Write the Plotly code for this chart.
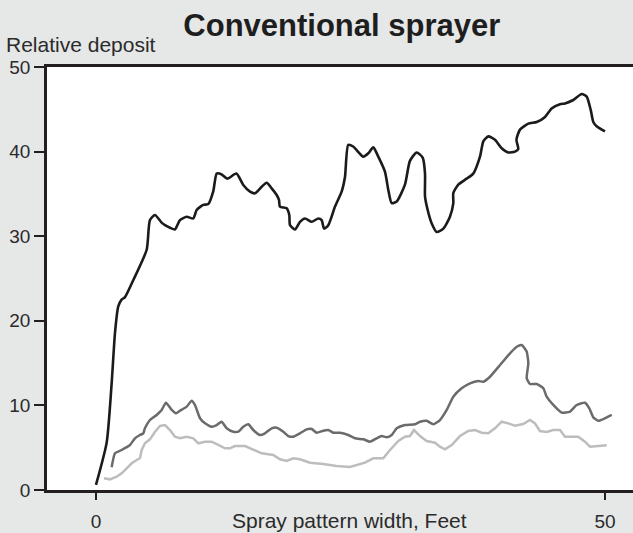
import plotly.graph_objects as go

# spray deposit across the swath
black_x = [0, 1.05, 1.54, 1.87, 2.19, 2.52, 2.85, 3.66, 4.98, 5.3, 5.8, 6.45, 6.78, 7.27, 7.76, 8.25,
           8.91, 9.56, 9.89, 10.54, 11.03, 11.52, 11.86, 12.35, 12.9, 13.8, 14.47, 15.13, 15.62, 16.28,
           16.77, 17.26, 17.75, 17.98, 18.07, 18.73, 18.99, 19.06, 19.55, 20.04, 20.53, 21.19, 21.84,
           22.17, 22.4, 22.82, 23.48, 24.14, 24.46, 24.78, 25.27, 26.26, 26.75, 27.24, 27.73, 28.39,
           28.71, 29.05, 29.54, 30.35, 30.84, 31.5, 32.09, 32.32, 32.32, 32.54, 32.98, 33.47, 34.12,
           34.77, 35.1, 35.1, 35.59, 36.41, 37.06, 37.72, 38.05, 38.54, 39.19, 39.85, 40.5, 41.16,
           41.48, 41.3, 41.65, 42.47, 43.29, 44.11, 44.76, 45.58, 46.07, 46.89, 47.71, 48.2, 48.6,
           48.85, 49.18, 50.0]
black_y = [0.6, 5.6, 12.6, 18.6, 21.7, 22.5, 22.8, 24.8, 28.4, 31.9, 32.5, 31.6, 31.3, 31.0, 30.8, 31.9,
           32.3, 32.1, 33.1, 33.7, 33.8, 35.3, 37.4, 37.3, 36.8, 37.4, 36.05, 35.26, 35.07, 35.85,
           36.32, 35.66, 34.87, 34.28, 33.49, 33.3, 32.5, 31.3, 30.8, 31.7, 32.1, 31.7, 32.1,
           31.9, 30.9, 31.3, 33.5, 35.3, 37.0, 40.8, 40.6, 39.4, 39.8, 40.5, 39.4, 37.6,
           35.5, 33.9, 34.1, 36.1, 38.9, 39.9, 39.3, 37.4, 34.7, 33.3, 31.5, 30.5, 30.9,
           32.3, 33.9, 35.1, 36.1, 36.8, 37.4, 39.4, 41.2, 41.8, 41.4, 40.4, 39.9, 40.0,
           40.3, 41.4, 42.6, 43.3, 43.5, 44.1, 45.1, 45.6, 45.7, 46.1, 46.8, 46.5, 44.9,
           43.5, 43.0, 42.4]

dark_x = [1.54, 1.87, 2.52, 3.34, 3.83, 4.32, 4.65, 4.81, 5.3, 5.96, 6.45, 6.88, 7.44, 7.86, 8.25, 8.91,
          9.4, 9.72, 10.22, 10.71, 11.37, 11.86, 12.35, 12.84, 13.49, 13.98, 14.47, 14.96, 15.45,
          16.11, 16.6, 17.26, 17.75, 18.4, 18.89, 19.38, 20.04, 20.7, 21.19, 21.68, 22.33, 22.82,
          23.31, 23.97, 24.78, 25.44, 26.26, 26.92, 27.57, 28.06, 28.56, 29.05, 29.54, 30.35,
          31.34, 31.83, 32.48, 33.13, 33.79, 34.45, 35.1, 35.92, 36.74, 37.55, 38.05, 38.7, 39.69,
          40.67, 41.33, 41.82, 42.31, 42.47, 42.31, 42.63, 43.29, 43.94, 44.27, 44.92, 45.75,
          46.56, 47.22, 48.03, 48.46, 48.85, 49.34, 50.0, 50.66]
dark_y = [2.68, 4.34, 4.73, 5.32, 6.11, 6.5, 6.7, 7.29, 8.27, 8.87, 9.46, 10.32, 9.46, 9.07, 9.37, 9.85,
          10.56, 10.05, 8.48, 7.88, 7.48, 7.68, 8.07, 7.29, 6.89, 6.89, 7.48, 7.77, 7.09,
          6.5, 6.7, 7.29, 7.36, 6.89, 6.38, 6.3, 6.7, 7.17, 7.21, 6.77, 7.01, 7.09,
          6.77, 6.77, 6.5, 6.11, 5.99, 5.71, 6.11, 6.38, 6.23, 6.5, 7.29, 7.68,
          7.77, 8.07, 8.19, 7.77, 8.27, 9.46, 11.03, 12.02, 12.61, 12.88, 12.8, 13.39, 14.78,
          16.16, 16.94, 17.14, 16.35, 14.98, 13.2, 12.53, 12.53, 12.02, 11.03, 10.05, 9.14,
          9.26, 10.05, 10.32, 9.66, 8.59, 8.19, 8.48, 8.87]

light_x = [0.79, 1.38, 2.03, 2.52, 3.02, 3.51, 4.0, 4.32, 4.49, 4.81, 5.3, 5.8, 6.29, 6.78, 7.27, 7.76,
           8.25, 8.91, 9.56, 10.05, 10.71, 11.37, 12.01, 12.67, 13.16, 13.65, 14.64, 15.45, 16.28,
           17.42, 18.07, 18.73, 19.38, 20.04, 21.02, 22.33, 23.64, 24.95, 25.61, 26.42, 27.24,
           28.22, 28.88, 29.7, 30.35, 30.84, 31.24, 31.83, 32.48, 33.3, 33.79, 34.28, 34.94,
           35.76, 36.57, 37.23, 37.89, 38.54, 39.19, 39.85, 40.5, 41.16, 41.97, 42.63, 43.12,
           43.61, 44.27, 44.92, 45.58, 46.07, 46.73, 47.38, 48.03, 48.53, 49.35, 50.17]
light_y = [1.38, 1.26, 1.57, 1.97, 2.56, 3.16, 3.55, 3.75, 4.73, 5.52, 5.99, 6.89, 7.57, 7.68, 7.09, 6.3,
           6.11, 6.3, 6.11, 5.52, 5.71, 5.71, 5.32, 4.93, 4.93, 5.2, 5.2, 4.73, 4.34,
           4.14, 3.63, 3.43, 3.75, 3.63, 3.23, 3.07, 2.84, 2.72, 2.96, 3.23, 3.75,
           3.75, 4.73, 5.79, 6.3, 6.38, 7.09, 6.38, 5.79, 5.59, 5.12, 4.81, 5.32,
           6.38, 6.97, 7.09, 6.77, 6.7, 7.29, 8.07, 7.88, 7.6, 7.8, 8.27, 7.88,
           6.97, 6.86, 7.09, 7.09, 6.3, 6.3, 6.3, 5.71, 5.12, 5.2, 5.28]

x_ticks = [0, 50]
y_ticks = [0, 10, 20, 30, 40, 50]

BG = "#e6e7e7"
INK = "#231f20"
TXT = "#2b2b2b"
FONT = "Liberation Sans, Arial, sans-serif"

fig = go.Figure()
fig.add_trace(go.Scatter(x=light_x, y=light_y, mode="lines",
                         line=dict(color="#bdbdbd", width=2.5)))
fig.add_trace(go.Scatter(x=dark_x, y=dark_y, mode="lines",
                         line=dict(color="#6b6b6b", width=2.5, shape="spline", smoothing=0.5)))
fig.add_trace(go.Scatter(x=black_x, y=black_y, mode="lines",
                         line=dict(color="#1c1a1a", width=2.6, shape="spline", smoothing=0.6)))

fig.update_layout(
    width=633, height=533,
    margin=dict(l=47, r=0, t=67, b=43, autoexpand=False),
    paper_bgcolor=BG, plot_bgcolor="white",
    showlegend=False,
    font=dict(family=FONT, size=19, color=TXT),
    title=dict(text="<b>Conventional sprayer</b>", x=0.54, xanchor="center",
               y=0.952, yanchor="middle", font=dict(size=31, color="#1e1e1e")),
)
fig.update_xaxes(range=[-4.81, 52.75], tickvals=x_ticks, ticks="outside", ticklen=7,
                 tickwidth=2, tickcolor=INK, showline=True, linewidth=2.5, linecolor=INK,
                 mirror=True, showgrid=False, zeroline=False, fixedrange=True,
                 automargin=False, ticklabelstandoff=5)
fig.update_yaxes(range=[0, 50], tickvals=y_ticks, ticks="outside", ticklen=10,
                 tickwidth=2, tickcolor=INK, showline=True, linewidth=2.5, linecolor=INK,
                 showgrid=False, zeroline=False, fixedrange=True, automargin=False)

fig.add_annotation(text="Relative deposit", xref="paper", yref="paper", x=-0.073, y=1.054,
                   xanchor="left", yanchor="middle", showarrow=False,
                   font=dict(size=21, color=TXT))
fig.add_annotation(text="Spray pattern width, Feet", xref="paper", yref="paper", x=0.517,
                   y=-0.071, xanchor="center", yanchor="middle", showarrow=False,
                   font=dict(size=21, color=TXT))

# the page's default body margin would push the 633x533 figure off screen
fig.write_html("out.html", config={"displayModeBar": False},
               post_script="document.body.style.margin='0';")
